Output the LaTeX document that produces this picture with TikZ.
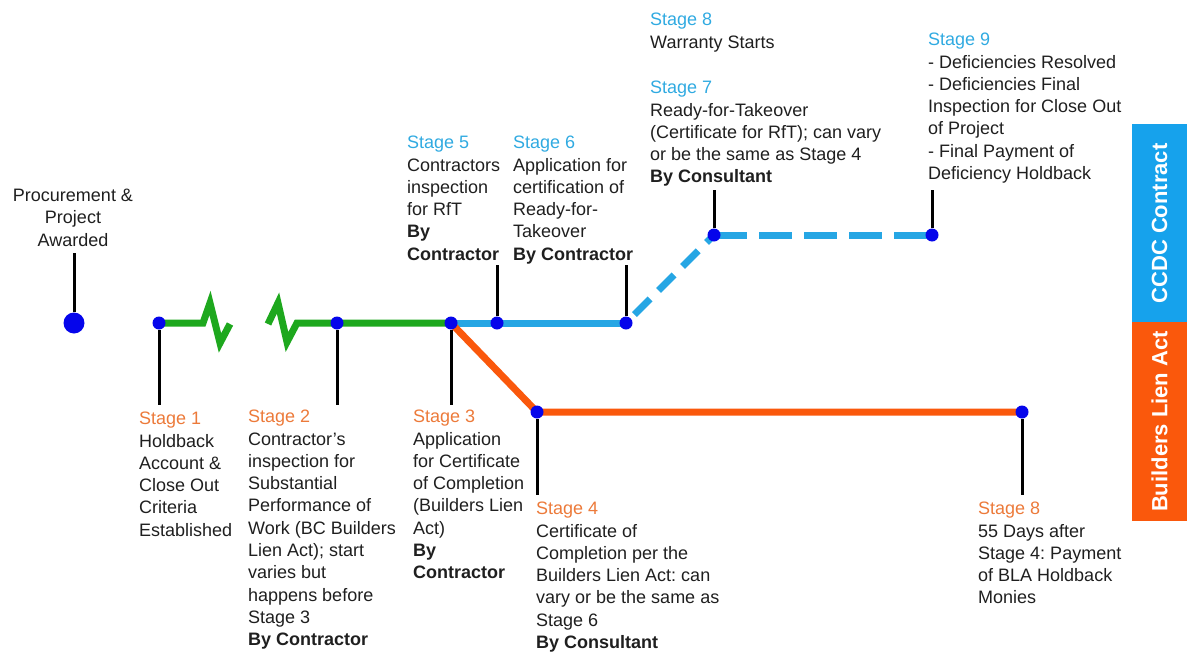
\documentclass[tikz,border=0pt]{standalone}
\usepackage{fontspec}
\setmainfont{Liberation Sans}
\usepackage{tikz}
\usetikzlibrary{arrows, positioning, shapes, calc}
\frenchspacing
\definecolor{lineblue}{RGB}{38,166,228}
\definecolor{barblue}{RGB}{22,162,236}
\definecolor{lineorange}{RGB}{250,88,12}
\definecolor{stageorange}{RGB}{236,122,58}
\definecolor{stageblue}{RGB}{48,170,225}
\definecolor{workgreen}{RGB}{30,168,30}
\definecolor{dotblue}{RGB}{5,5,235}
\pgfdeclarelayer{bg}
\pgfsetlayers{bg,main}
\tikzstyle{milestone} = [circle, fill=dotblue, inner sep=0pt, minimum size=13pt]
\tikzstyle{bigmilestone} = [circle, fill=dotblue, inner sep=0pt, minimum size=21pt]
\tikzstyle{stem} = [line width=3pt, black]
\tikzstyle{caption} = [anchor=north west, align=left, inner sep=0pt, text=black!88, font=\fontsize{18}{22.3}\selectfont]
\tikzstyle{timeline} = [line width=7pt, line join=miter]
\tikzstyle{sidebar} = [rotate=90, minimum width=199pt, minimum height=55pt, inner sep=0pt, text=white, font=\fontsize{22}{26}\selectfont\bfseries]

\begin{document}
\begin{tikzpicture}[x=1pt, y=-1pt]
    \useasboundingbox (0,0) rectangle (1187,656);

    % The milestones
    \node[bigmilestone] (awarded) at (74,323) {};
    \node[milestone] (stage_1) at (159,323) {};
    \node[milestone] (stage_2) at (337,323) {};
    \node[milestone] (stage_3) at (451,323) {};
    \node[milestone] (stage_4) at (537,412) {};
    \node[milestone] (stage_5) at (497,323) {};
    \node[milestone] (stage_6) at (626,323) {};
    \node[milestone] (stage_7) at (714,235) {};
    \node[milestone] (stage_9) at (932,235) {};
    \node[milestone] (stage_8h) at (1022,412) {};

    % The timelines
    \begin{pgfonlayer}{bg}
        \draw[timeline, workgreen] (stage_1.center) -- (203,323) -- (210,303) -- (220,343) -- (230,324);
        \draw[timeline, workgreen] (268,324) -- (278,303) -- (287,342) -- (297,323) -- (stage_2.center) -- (stage_3.center);
        \draw[timeline, lineblue] (stage_3.center) -- (stage_5.center) -- (stage_6.center);
        \draw[timeline, lineblue, dash pattern=on 22pt off 12pt, dash phase=22pt] (stage_6.center) -- (stage_7.center);
        \draw[timeline, lineblue, dash pattern=on 33pt off 12pt] (stage_7.center) -- (stage_9.center);
        \draw[timeline, lineorange] (stage_3.center) -- (stage_4.center) -- (stage_8h.center);
    \end{pgfonlayer}

    % The stems
    \coordinate (awarded_end) at (74,253);
    \coordinate (stage_1_end) at (159,405);
    \coordinate (stage_2_end) at (337,405);
    \coordinate (stage_3_end) at (451,405);
    \coordinate (stage_4_end) at (537,495);
    \coordinate (stage_8h_end) at (1022,495);
    \coordinate (stage_5_end) at (497,265);
    \coordinate (stage_6_end) at (626,265);
    \coordinate (stage_7_end) at (714,190);
    \coordinate (stage_9_end) at (932,190);
    \foreach \m in {awarded, stage_1, stage_2, stage_3, stage_4, stage_8h, stage_5, stage_6, stage_7, stage_9}
        \draw[stem] (\m) -- (\m_end);

    % The captions
    \node[caption, anchor=north, align=center] (awarded_text) at (73,189)
        {Procurement \&\\Project\\Awarded};
    \node[caption] (stage_1_text) at (139,412)
        {{\color{stageorange}Stage 1}\\Holdback\\Account \&\\Close Out\\Criteria\\Established};
    \node[caption] (stage_2_text) at (248,410)
        {{\color{stageorange}Stage 2}\\Contractor’s\\inspection for\\Substantial\\Performance of\\Work (BC Builders\\Lien Act); start\\varies but\\happens before\\Stage 3\\\textbf{By Contractor}};
    \node[caption] (stage_3_text) at (413,410)
        {{\color{stageorange}Stage 3}\\Application\\for Certificate\\of Completion\\(Builders Lien\\Act)\\\textbf{By}\\\textbf{Contractor}};
    \node[caption] (stage_4_text) at (536,502)
        {{\color{stageorange}Stage 4}\\Certificate of\\Completion per the\\Builders Lien Act: can\\vary or be the same as\\Stage 6\\\textbf{By Consultant}};
    \node[caption] (stage_8h_text) at (978,502)
        {{\color{stageorange}Stage 8}\\55 Days after\\Stage 4: Payment\\of BLA Holdback\\Monies};
    \node[caption] (stage_5_text) at (407,136)
        {{\color{stageblue}Stage 5}\\Contractors\\inspection\\for RfT\\\textbf{By}\\\textbf{Contractor}};
    \node[caption] (stage_6_text) at (513,136)
        {{\color{stageblue}Stage 6}\\Application for\\certification of\\Ready-for-\\Takeover\\\textbf{By Contractor}};
    \node[caption] (stage_8w_text) at (650,13)
        {{\color{stageblue}Stage 8}\\Warranty Starts};
    \node[caption] (stage_7_text) at (650,81)
        {{\color{stageblue}Stage 7}\\Ready-for-Takeover\\(Certificate for RfT); can vary\\or be the same as Stage 4\\\textbf{By Consultant}};
    \node[caption] (stage_9_text) at (928,33)
        {{\color{stageblue}Stage 9}\\- Deficiencies Resolved\\- Deficiencies Final\\Inspection for Close Out\\of Project\\- Final Payment of\\Deficiency Holdback};

    % The side bars
    \node[sidebar, fill=barblue] (ccdc_bar) at (1159.5,223.5) {CCDC Contract};
    \node[sidebar, fill=lineorange] (bla_bar) at (1159.5,421.5) {Builders Lien Act};
\end{tikzpicture}
\end{document}
